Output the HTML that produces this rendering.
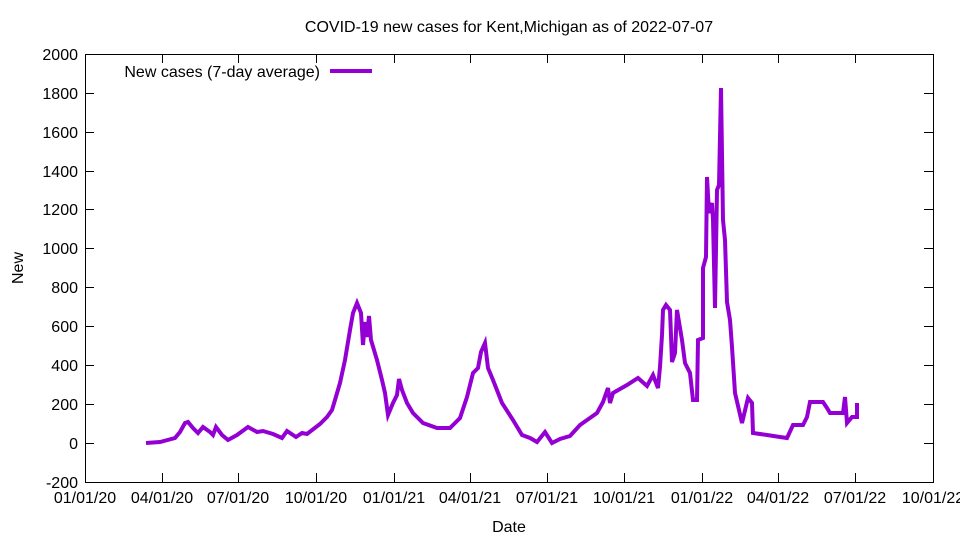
<!DOCTYPE html>
<html><head><style>body{margin:0;background:#fff}svg{display:block}text{font-family:"Liberation Sans",sans-serif;font-size:16px;fill:#000}</style></head><body>
<svg width="960" height="540" viewBox="0 0 960 540">
<rect width="960" height="540" fill="#fff"/>
<g stroke="#000" stroke-width="1" fill="none">
<rect x="85.5" y="54.5" width="848" height="428"/>
<path d="M85,443.5h9M933,443.5h-9M85,404.5h9M933,404.5h-9M85,365.5h9M933,365.5h-9M85,326.5h9M933,326.5h-9M85,287.5h9M933,287.5h-9M85,248.5h9M933,248.5h-9M85,209.5h9M933,209.5h-9M85,171.5h9M933,171.5h-9M85,132.5h9M933,132.5h-9M85,93.5h9M933,93.5h-9
M162.5,482v-9M162.5,54v9M238.5,482v-9M238.5,54v9M316.5,482v-9M316.5,54v9M394.5,482v-9M394.5,54v9M470.5,482v-9M470.5,54v9M547.5,482v-9M547.5,54v9M624.5,482v-9M624.5,54v9M702.5,482v-9M702.5,54v9M778.5,482v-9M778.5,54v9M855.5,482v-9M855.5,54v9"/>
</g>
<g text-anchor="end">
<text x="78" y="488">-200</text><text x="78" y="449">0</text><text x="78" y="410">200</text><text x="78" y="371">400</text><text x="78" y="332">600</text><text x="78" y="293">800</text><text x="78" y="254">1000</text><text x="78" y="215">1200</text><text x="78" y="177">1400</text><text x="78" y="138">1600</text><text x="78" y="99">1800</text><text x="78" y="60">2000</text>
</g>
<g text-anchor="middle">
<text x="85" y="503">01/01/20</text><text x="162" y="503">04/01/20</text><text x="238" y="503">07/01/20</text><text x="316" y="503">10/01/20</text><text x="394" y="503">01/01/21</text><text x="470" y="503">04/01/21</text><text x="547" y="503">07/01/21</text><text x="624" y="503">10/01/21</text><text x="702" y="503">01/01/22</text><text x="778" y="503">04/01/22</text><text x="855" y="503">07/01/22</text><text x="933" y="503">10/01/22</text>
<text x="509" y="532">Date</text>
<text x="509" y="32">COVID-19 new cases for Kent,Michigan as of 2022-07-07</text>
<text x="0" y="0" transform="translate(23,268) rotate(-90)">New</text>
</g>
<text x="320" y="77" text-anchor="end">New cases (7-day average)</text>
<line x1="330" y1="71" x2="372" y2="71" stroke="#9400d3" stroke-width="4"/>
<polyline fill="none" stroke="#9400d3" stroke-width="4" stroke-linejoin="miter" points="146,443 160,442 175,438 180,432 185,423 188,422 193,428 198,433 203,427 210,432 213,435 216,427 222,435 228,440 237,435 248,427 257,432 263,431 273,434 282,438 287,431 296,437 302,433 307,434 320,424 327,417 332,410 335,400 340,383 345,360 350,330 353,313 357,303 361,313 363,345 365,322 367,337 369,316 371,340 377,360 382,380 385,393 388,415 393,403 397,395 399,379 402,390 407,403 413,413 423,423 437,428 450,428 460,418 467,397 473,373 478,368 481,352 485,343 488,368 493,380 502,403 513,420 522,435 530,438 537,442 545,432 552,443 560,439 570,436 580,425 597,413 603,402 608,388 610,403 613,393 627,385 638,378 647,386 653,375 658,388 660,367 662,335 663,310 666,305 670,310 672,362 675,353 677,310 682,340 685,363 690,373 693,400 697,400 698,340 703,338 703,268 706,257 707,177 709,213 712,203 713,220 715,308 717,190 719,185 721,88 723,220 725,240 727,302 730,320 732,347 735,393 742,423 748,398 752,403 753,433 767,435 780,437 787,438 793,425 803,425 807,417 810,402 823,402 827,408 830,413 843,413 845,397 847,423 852,417 857,417 857,403"/>
</svg>
</body></html>
